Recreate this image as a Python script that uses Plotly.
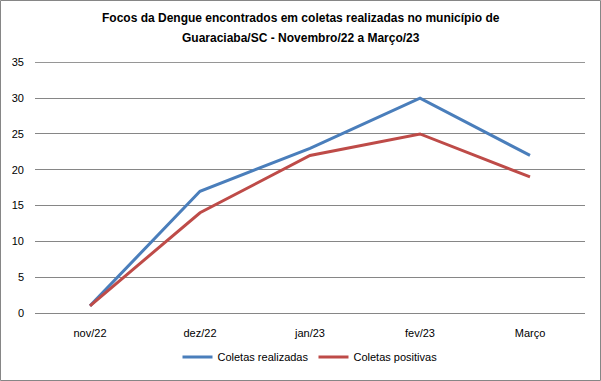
import plotly.graph_objects as go

categorias = ["nov/22", "dez/22", "jan/23", "fev/23", "Março"]
coletas_realizadas = [1, 17, 23, 30, 22]
coletas_positivas = [1, 14, 22, 25, 19]
y_ticks = [0, 5, 10, 15, 20, 25, 30, 35]
titulo_linhas = ["Focos da Dengue encontrados em coletas realizadas no município de",
                 "Guaraciaba/SC - Novembro/22 a Março/23"]

W, H = 601, 381
ML, MR, MT, MB = 35, 16, 62, 68
pw = W - ML - MR
ph = H - MT - MB

fig = go.Figure()
fig.add_trace(go.Scatter(x=categorias, y=coletas_realizadas, mode="lines",
                         name="Coletas realizadas",
                         line=dict(color="#4A7EBB", width=3)))
fig.add_trace(go.Scatter(x=categorias, y=coletas_positivas, mode="lines",
                         name="Coletas positivas",
                         line=dict(color="#BE4B48", width=3)))

fig.add_shape(type="rect", xref="paper", yref="paper",
              x0=(0.5 - ML) / pw, x1=(W - 0.5 - ML) / pw,
              y0=-(MB - 0.5) / ph, y1=(H - MB - 0.5) / ph,
              line=dict(color="#868686", width=1), layer="below")
# top gridline (drawn explicitly so it is not dropped at the range edge)
fig.add_shape(type="line", xref="paper", yref="y", x0=0, x1=1,
              y0=max(y_ticks), y1=max(y_ticks),
              line=dict(color="#868686", width=1), layer="below")

title_y_px = [18, 38]
for txt, ypx in zip(titulo_linhas, title_y_px):
    fig.add_annotation(text=txt, xref="paper", yref="paper",
                       x=(W / 2 - ML) / pw, y=(H - MB - ypx) / ph,
                       xanchor="center", yanchor="middle", showarrow=False,
                       font=dict(family="Liberation Sans, Arial", size=12,
                                 color="#000000", weight="bold"))

fig.update_layout(
    width=W, height=H,
    margin=dict(l=ML, r=MR, t=MT, b=MB, autoexpand=False),
    paper_bgcolor="white", plot_bgcolor="white",
    font=dict(family="Liberation Sans, Arial", size=11, color="#000000"),
    showlegend=True,
    legend=dict(orientation="h", x=0.5, xanchor="center",
                y=-(357 - (H - MB)) / ph, yanchor="middle",
                font=dict(size=11), itemwidth=30, tracegroupgap=0),
    xaxis=dict(type="category", range=[-0.5, 4.5], showgrid=False,
               showline=True, linecolor="#868686", linewidth=1,
               ticks="", ticklabelstandoff=10, tickfont=dict(size=11)),
    yaxis=dict(range=[0, 35.05], tickvals=y_ticks,
               showgrid=True, gridcolor="#868686",
               gridwidth=1, zeroline=False, showline=False,
               ticks="", ticklabelstandoff=10, tickfont=dict(size=11)),
)

fig.write_html("out.html", config={"displayModeBar": False},
               post_script="document.body.style.margin='0';document.body.style.padding='0';document.body.style.overflow='hidden';")
